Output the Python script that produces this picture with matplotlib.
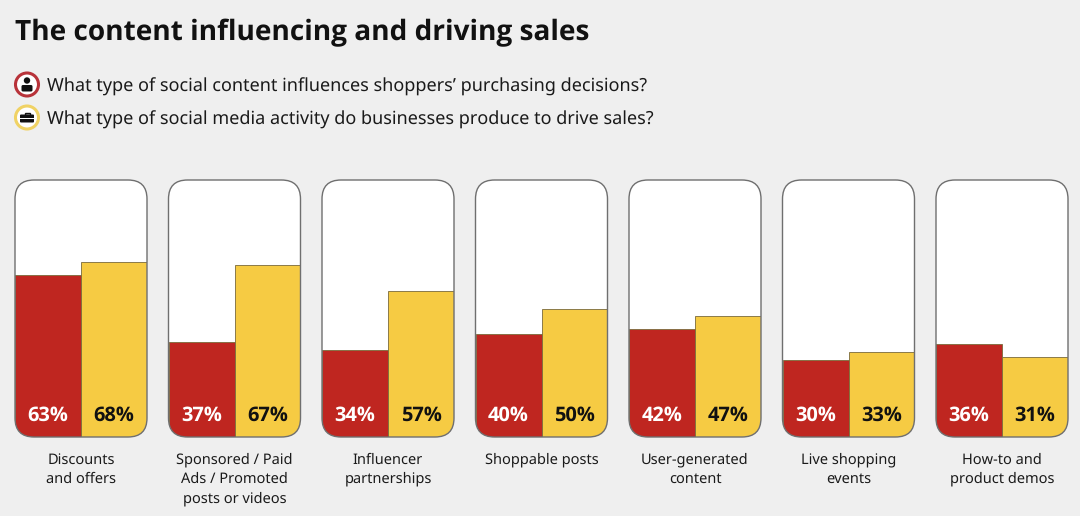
import matplotlib
matplotlib.use("Agg")
import matplotlib.pyplot as plt
from matplotlib.patches import Circle, FancyBboxPatch, Rectangle

plt.rcParams['font.family'] = ['Noto Sans', 'DejaVu Sans']
plt.rcParams['text.hinting'] = 'no_hinting'
plt.rcParams['text.hinting_factor'] = 1
BOLD = ['Open Sans', 'DejaVu Sans']

categories = ["Discounts\nand offers", "Sponsored / Paid\nAds / Promoted\nposts or videos",
              "Influencer\npartnerships", "Shoppable posts", "User-generated\ncontent",
              "Live shopping\nevents", "How-to and\nproduct demos"]
shoppers = [63, 37, 34, 40, 42, 30, 36]
businesses = [68, 67, 57, 50, 47, 33, 31]

title = "The content influencing and driving sales"
question_shoppers = "What type of social content influences shoppers\u2019 purchasing decisions?"
question_businesses = "What type of social media activity do businesses produce to drive sales?"

RED = "#bf2620"
YELLOW = "#f6cb43"
BG = "#efefef"
W, H = 1080, 516

fig = plt.figure(figsize=(W / 100, H / 100), dpi=100, facecolor=BG)

# full-figure axes in pixel units for the text, icons and card outlines
page = fig.add_axes([0, 0, 1, 1])
page.set_xlim(0, W)
page.set_ylim(H, 0)
page.axis("off")

page.text(15, 40, title, fontsize=20.5, fontweight="bold", family=BOLD, color="#111111", va="baseline", ha="left")
page.text(47, 91.5, question_shoppers, fontsize=13.0, color="#1a1a1a", va="baseline", ha="left")
page.text(47, 124.5, question_businesses, fontsize=13.0, color="#1a1a1a", va="baseline", ha="left")

# shopper icon
page.add_patch(Circle((27, 84.5), 11.5, fc="white", ec="#b8333a", lw=2.2))
page.add_patch(Circle((27, 80.5), 3.2, fc="#111111", ec="none"))
page.add_patch(FancyBboxPatch((21.5, 85), 11, 6.5, boxstyle="round,pad=0,rounding_size=1.5", fc="#111111", ec="none"))

# business icon
page.add_patch(Circle((27, 117.5), 11.5, fc="white", ec="#f0d264", lw=2.2))
page.add_patch(Rectangle((24.5, 112.5), 5, 2.5, fc="none", ec="#111111", lw=1))
page.add_patch(FancyBboxPatch((20, 114.5), 14, 8, boxstyle="round,pad=0,rounding_size=1", fc="#111111", ec="none"))
page.add_patch(Rectangle((20, 118), 14, 0.7, fc="white", ec="none"))

card_left = 15
card_step = 153.5
card_w = 132
card_top = 180
card_bottom = 437

for i, cat in enumerate(categories):
    x0 = card_left + i * card_step
    card = FancyBboxPatch((x0, card_top), card_w, card_bottom - card_top,
                          boxstyle="round,pad=0,rounding_size=19",
                          fc="white", ec="none", zorder=1)
    page.add_patch(card)

    ax = fig.add_axes([x0 / W, 1 - card_bottom / H, card_w / W, (card_bottom - card_top) / H])
    ax.patch.set_alpha(0)
    ax.set_xlim(-0.5, 1.5)
    ax.set_ylim(0, 100)
    ax.axis("off")
    bars = ax.bar([0, 1], [shoppers[i], businesses[i]], width=1, color=[RED, YELLOW],
                  edgecolor="#7a6a3a", linewidth=0.6)
    for b in bars:
        b.set_clip_path(card)
    ax.text(0, 6.3, f"{shoppers[i]}%", color="white", fontsize=14.7, fontweight="bold", family=BOLD, ha="center", va="baseline")
    ax.text(1, 6.3, f"{businesses[i]}%", color="#111111", fontsize=14.7, fontweight="bold", family=BOLD, ha="center", va="baseline")

    # outline goes on top of the bars
    outline = FancyBboxPatch((x0, card_top), card_w, card_bottom - card_top,
                             boxstyle="round,pad=0,rounding_size=19",
                             fc="none", ec="#6f6f6f", lw=1.0,
                             transform=page.transData)
    ax.add_patch(outline)
    outline.set_clip_on(False)

    # one text per line so every label sits on the same baselines
    for n, line in enumerate(cat.split("\n")):
        page.text(x0 + card_w / 2, 463.5 + n * 19.5, line, fontsize=10.5, color="#1a1a1a",
                  ha="center", va="baseline")

fig.savefig("out.png", dpi=100, facecolor=BG)
